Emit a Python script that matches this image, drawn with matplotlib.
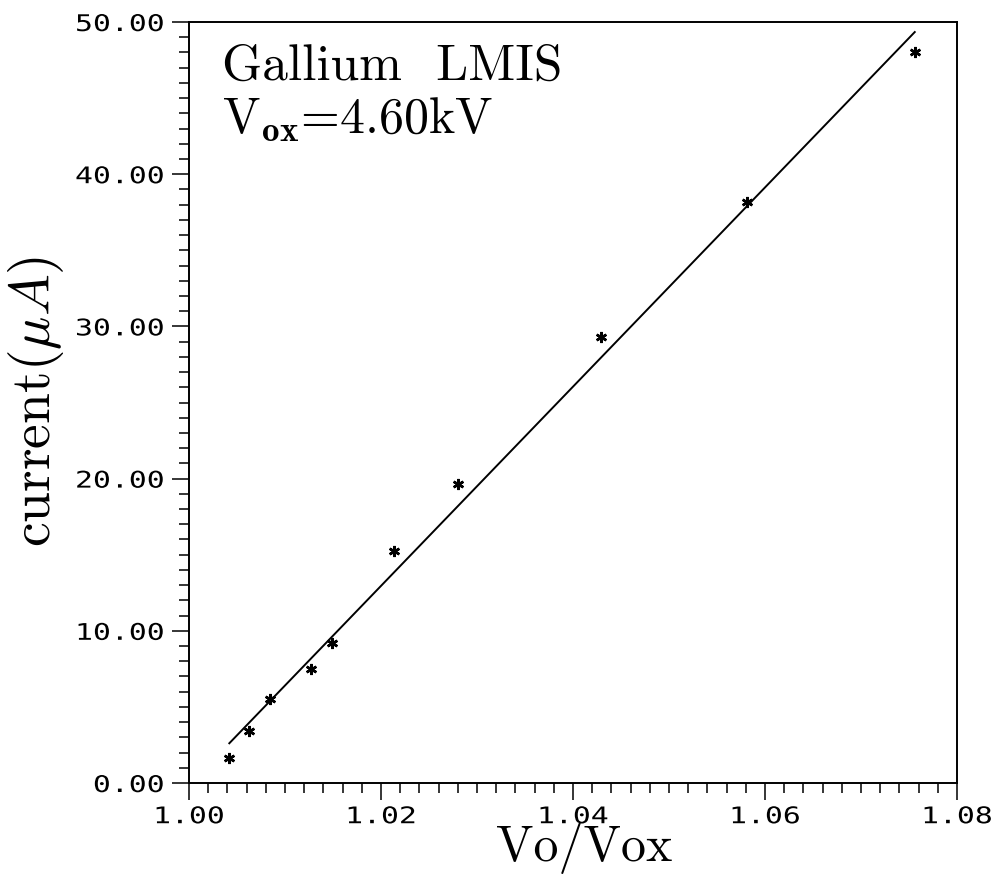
import numpy as np
import matplotlib
matplotlib.use("Agg")
import matplotlib.pyplot as plt
from matplotlib.patheffects import AbstractPathEffect
from matplotlib.transforms import Affine2D
from matplotlib.ticker import MultipleLocator, FormatStrFormatter

# measured points (Vo/Vox, current in uA)
ratio = [1.0042, 1.0063, 1.0084, 1.0127, 1.0149, 1.0214, 1.0280, 1.0429, 1.0581, 1.0756]
current = [1.64, 3.42, 5.50, 7.49, 9.22, 15.24, 19.64, 29.30, 38.2, 48.0]

# straight line drawn through the points
fit_x = [1.0042, 1.0756]
fit_y = [2.61, 49.34]

x_ticks = [1.00, 1.02, 1.04, 1.06, 1.08]
y_ticks = [0, 10, 20, 30, 40, 50]


class Widen(AbstractPathEffect):
    # plotter fonts are wider than the mono fonts we have, stretch them a bit
    def __init__(self, sx, anchor):
        super().__init__()
        self.sx = sx
        self.anchor = anchor

    def draw_path(self, renderer, gc, tpath, affine, rgbFace=None):
        ext = tpath.get_extents()
        if self.anchor == "right":
            x0 = ext.x1
        else:
            x0 = (ext.x0 + ext.x1) / 2
        st = Affine2D().translate(-x0, 0).scale(self.sx, 1).translate(x0, 0)
        renderer.draw_path(gc, tpath, st + affine, rgbFace)


plt.rcParams["mathtext.fontset"] = "cm"

fig = plt.figure(figsize=(9.97, 8.76), dpi=100)
ax = fig.add_axes([189 / 997, 1 - 783 / 876, 768 / 997, 761 / 876])

ax.plot(fit_x, fit_y, color="black", lw=1.4)
ax.plot(ratio, current, ls="none", marker=(6, 2, 0), ms=8, mew=1.8, color="black")

ax.set_xlim(1.00, 1.08)
ax.set_ylim(0, 50)
ax.set_xticks(x_ticks)
ax.set_yticks(y_ticks)
ax.xaxis.set_minor_locator(MultipleLocator(0.002))
ax.yaxis.set_minor_locator(MultipleLocator(1))
ax.xaxis.set_major_formatter(FormatStrFormatter("%.2f"))
ax.yaxis.set_major_formatter(FormatStrFormatter("%.2f"))

ax.tick_params(which="both", direction="out", top=False, right=False, width=1.1, color="black")
ax.tick_params(which="major", length=12)
ax.tick_params(which="minor", length=7)
ax.tick_params(axis="y", pad=6)
ax.tick_params(axis="x", pad=4)
for s in ax.spines.values():
    s.set_linewidth(1.4)

for lab in ax.get_yticklabels():
    lab.set_fontfamily("DejaVu Sans Mono")
    lab.set_fontsize(16.5)
    lab.set_path_effects([Widen(1.3, "right")])
for lab in ax.get_xticklabels():
    lab.set_fontfamily("DejaVu Sans Mono")
    lab.set_fontsize(16.5)
    lab.set_path_effects([Widen(1.3, "center")])

fig.text(36 / 997, 1 - 402 / 876, r"current($\mu A$)", family="cmr10", fontsize=40,
         rotation=90, ha="center", va="center")
fig.text(584 / 997, 1 - 861 / 876, "Vo/Vox", family="cmr10", fontsize=36,
         ha="center", va="baseline")

fig.text(222 / 997, 1 - 80 / 876, "Gallium  LMIS", family="cmr10", fontsize=37,
         va="baseline")
fig.text(222 / 997, 1 - 133 / 876, r"V$_{\mathbf{ox}}$=4.60kV", family="cmr10", fontsize=36,
         va="baseline")

fig.savefig("out.png", dpi=100)
